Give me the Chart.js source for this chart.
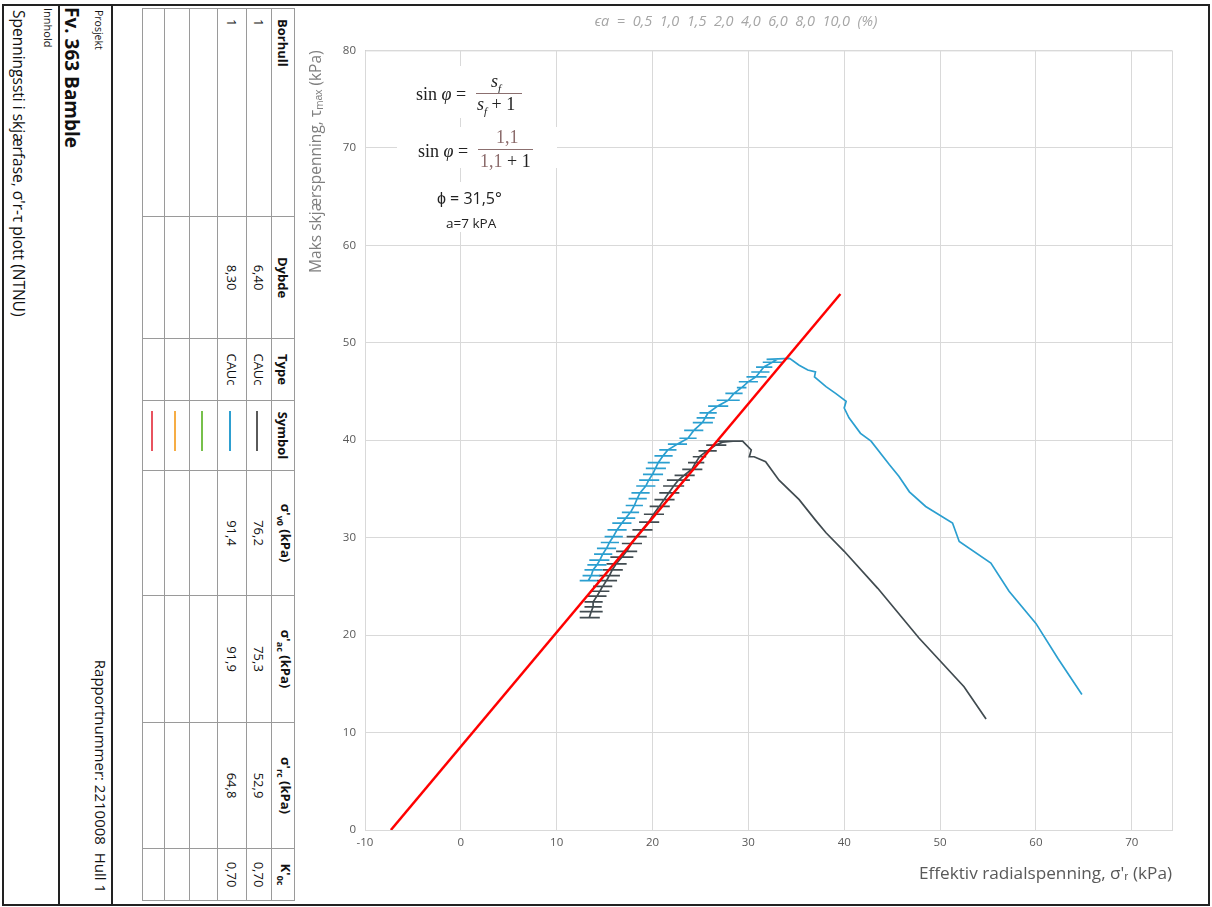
<!DOCTYPE html>
<html>
<head>
<meta charset="utf-8">
<style>
  body { margin: 0; background: #fff; width: 1212px; height: 907px; position: relative; overflow: hidden; font-family: "Open Sans", sans-serif; color: #111; }
  #frame { position: absolute; left: 2px; top: 4px; width: 1208px; height: 902px; border: 2px solid #222; box-sizing: border-box; }
  #titleBlock { position: absolute; left: 113px; top: 5px; width: 900px; height: 110px; transform-origin: 0 0; transform: rotate(90deg); border-top: 2px solid #222; box-sizing: border-box; }
  #titleBlock .sep { position: absolute; left: 0; top: 51px; width: 900px; height: 0; border-top: 2px solid #222; }
  #titleBlock span { position: absolute; white-space: nowrap; }
  #tableWrap { position: absolute; left: 295px; top: 8px; transform-origin: 0 0; transform: rotate(90deg); }
  #infoTable { border-collapse: collapse; width: 892px; table-layout: fixed; font-size: 13px; }
  #infoTable td { border: 1px solid #9a9a9a; padding: 0 4px; text-align: center; white-space: nowrap; overflow: hidden; line-height: 14px; }
  #infoTable tr:first-child td { font-weight: bold; }
  #infoTable td.first { text-align: left; padding-left: 10px; }
  #infoTable sub { font-size: 9px; }
  .sym { display: inline-block; width: 40px; height: 2px; vertical-align: middle; margin-left: 6px; }
  #chartBox { position: absolute; left: 300px; top: 8px; width: 900px; height: 892px; }
  .fbox { position: absolute; background: #fff; }
  .ft { position: absolute; white-space: nowrap; font-family: "Liberation Serif", "DejaVu Serif", serif; font-size: 18px; line-height: 20px; color: #222; }
  .fs { font-family: "Open Sans", sans-serif; }
  .bar { position: absolute; height: 1px; background: #8b6f6f; }
  .br { color: #8b6b6b; }
</style>
</head>
<body>
<div id="frame"></div>

<div id="titleBlock">
  <span style="left:5px;top:5px;font-size:10.5px;line-height:14px;">Prosjekt</span>
  <span style="left:2px;top:27px;font-size:19px;line-height:24px;font-weight:bold;">Fv. 363 Bamble</span>
  <span style="right:12px;top:1px;font-size:15px;line-height:18px;">Rapportnummer: 2210008&nbsp; Hull 1</span>
  <div class="sep"></div>
  <span style="left:3px;top:56px;font-size:11px;line-height:14px;">Innhold</span>
  <span style="left:5px;top:82px;font-size:15.5px;line-height:20px;">Spenningssti i skjærfase, σ'r-τ plott (NTNU)</span>
</div>

<div id="tableWrap"><table id="infoTable"></table></div>

<div id="chartBox"><canvas id="chart" width="900" height="892"></canvas></div>

<div class="fbox" style="left:398px;top:66px;width:158px;height:52px;"></div>
<div class="fbox" style="left:397px;top:127px;width:160px;height:41px;"></div>
<div class="fbox" style="left:420px;top:182px;width:115px;height:50px;"></div>
<span class="ft" style="left:416px;top:84px;">sin <i>φ</i> =</span>
<span class="ft" style="left:491px;top:71px;"><i>s<sub style="font-size:11px">f</sub></i></span>
<div class="bar" style="left:476px;top:93px;width:46px;"></div>
<span class="ft" style="left:477px;top:94px;"><i>s<sub style="font-size:11px">f</sub></i> + 1</span>
<span class="ft" style="left:418px;top:141px;">sin <i>φ</i> =</span>
<span class="ft br" style="left:496px;top:127px;">1,1</span>
<div class="bar" style="left:478px;top:149px;width:55px;"></div>
<span class="ft" style="left:480px;top:151px;"><span class="br">1,1</span> + 1</span>
<span class="ft fs" style="left:437px;top:188px;font-size:16px;">ϕ = 31,5°</span>
<span class="ft fs" style="left:446px;top:213px;font-size:13.5px;">a=7 kPA</span>

<script src="https://cdn.jsdelivr.net/npm/chart.js"></script>
<script>
// tabell (rotert)
const tableHeaders = ['Borhull', 'Dybde', 'Type', 'Symbol', "σ'<sub>v0</sub> (kPa)", "σ'<sub>ac</sub> (kPa)", "σ'<sub>rc</sub> (kPa)", "K'<sub>0c</sub>"];
const colWidths = [208, 122, 62, 70, 125, 127, 126, 52];
const rowHeights = [23, 25, 29, 28, 25, 22];
const borhull = ['1', '1', '', '', ''];
const dybde = ['6,40', '8,30', '', '', ''];
const testType = ['CAUc', 'CAUc', '', '', ''];
const symbolColors = ['#5a5a5a', '#2e9fd0', '#77c04b', '#f6ad45', '#e8535f'];
const sigmaV0 = ['76,2', '91,4', '', '', ''];
const sigmaAc = ['75,3', '91,9', '', '', ''];
const sigmaRc = ['52,9', '64,8', '', '', ''];
const k0c = ['0,70', '0,70', '', '', ''];

// diagram data [σ'r, τmax]
const failureLine = [[-7.3, 0], [39.6, 55]];
const grayPath = [
  [13.4,21.8],[14.5,21.8],[12.4,21.8],[13.4,21.8], [13.6,22.4],[14.8,22.4],[12.4,22.4],[13.6,22.4],
  [13.8,22.9],[14.7,22.9],[12.9,22.9],[13.8,22.9], [13.8,23.4],[14.8,23.4],[12.9,23.4],[13.8,23.4],
  [14.2,24.0],[15.2,24.0],[13.2,24.0],[14.2,24.0], [14.5,24.5],[15.5,24.5],[13.5,24.5],[14.5,24.5],
  [14.8,25.0],[15.8,25.0],[13.8,25.0],[14.8,25.0], [15.2,25.6],[16.3,25.6],[14.2,25.6],[15.2,25.6],
  [15.5,26.1],[16.6,26.1],[14.4,26.1],[15.5,26.1], [15.8,26.7],[16.9,26.7],[14.8,26.7],[15.8,26.7],
  [16.2,27.3],[17.3,27.3],[15.2,27.3],[16.2,27.3], [16.8,28.0],[18.0,28.0],[15.6,28.0],[16.8,28.0],
  [17.3,28.6],[18.4,28.6],[16.2,28.6],[17.3,28.6], [17.8,29.4],[18.9,29.4],[16.8,29.4],[17.8,29.4],
  [18.3,30.1],[19.4,30.1],[17.3,30.1],[18.3,30.1], [18.9,30.8],[20.0,30.8],[17.9,30.8],[18.9,30.8],
  [19.6,31.6],[20.7,31.6],[18.6,31.6],[19.6,31.6], [20.1,32.4],[21.2,32.4],[19.1,32.4],[20.1,32.4],
  [20.7,33.2],[21.8,33.2],[19.7,33.2],[20.7,33.2], [21.2,33.9],[22.3,33.9],[20.2,33.9],[21.2,33.9],
  [21.7,34.6],[22.8,34.6],[20.7,34.6],[21.7,34.6], [22.2,35.3],[23.3,35.3],[21.1,35.3],[22.2,35.3],
  [22.7,35.9],[23.9,35.9],[21.5,35.9],[22.7,35.9], [23.3,36.4],[24.4,36.4],[22.3,36.4],[23.3,36.4],
  [24.1,37.0],[25.2,37.0],[23.1,37.0],[24.1,37.0], [24.5,37.7],[25.4,37.7],[23.7,37.7],[24.5,37.7],
  [24.9,38.3],[25.6,38.3],[24.2,38.3],[24.9,38.3], [25.7,38.9],[26.7,38.9],[24.8,38.9],[25.7,38.9],
  [26.6,39.5],[27.7,39.5],[25.6,39.5],[26.6,39.5], [27.3,39.8],[28.4,39.9],[26.8,39.9],[29.4,39.9],
  [30.3,39.0],[30.1,38.3],[30.6,38.3],[31.8,37.8],[33.2,35.9],[35.3,33.9],[37.0,31.8],[38.1,30.5],
  [40.0,28.6],[43.5,24.8],[47.8,19.7],[52.5,14.7],[54.8,11.4]
];
const bluePath = [
  [13.3,25.6],[14.2,25.6],[12.4,25.6],[13.3,25.6], [13.6,26.1],[14.5,26.1],[12.7,26.1],[13.6,26.1],
  [13.8,26.7],[14.8,26.7],[12.9,26.7],[13.8,26.7], [14.2,27.2],[15.2,27.2],[13.2,27.2],[14.2,27.2],
  [14.5,27.7],[15.5,27.7],[13.4,27.7],[14.5,27.7], [14.8,28.3],[15.8,28.3],[13.9,28.3],[14.8,28.3],
  [15.2,28.9],[16.2,28.9],[14.2,28.9],[15.2,28.9], [15.5,29.5],[16.5,29.5],[14.6,29.5],[15.5,29.5],
  [15.9,30.1],[16.9,30.1],[15.0,30.1],[15.9,30.1], [16.3,30.8],[17.3,30.8],[15.3,30.8],[16.3,30.8],
  [16.8,31.5],[17.8,31.5],[15.8,31.5],[16.8,31.5], [17.2,32.0],[18.2,32.0],[16.3,32.0],[17.2,32.0],
  [17.7,32.6],[18.6,32.6],[16.8,32.6],[17.7,32.6], [18.1,33.3],[19.0,33.3],[17.2,33.3],[18.1,33.3],
  [18.4,34.0],[19.4,34.0],[17.5,34.0],[18.4,34.0], [18.7,34.6],[19.7,34.6],[17.8,34.6],[18.7,34.6],
  [19.3,35.3],[20.3,35.3],[18.3,35.3],[19.3,35.3], [19.6,35.9],[20.7,35.9],[18.6,35.9],[19.6,35.9],
  [20.0,36.5],[21.1,36.5],[19.0,36.5],[20.0,36.5], [20.3,37.1],[21.4,37.1],[19.3,37.1],[20.3,37.1],
  [20.6,37.7],[21.8,37.7],[19.5,37.7],[20.6,37.7], [21.1,38.4],[22.1,38.4],[20.2,38.4],[21.1,38.4],
  [21.6,39.0],[22.5,39.0],[20.7,39.0],[21.6,39.0], [22.6,39.6],[23.6,39.6],[21.6,39.6],[22.6,39.6],
  [23.7,40.2],[24.6,40.2],[22.8,40.2],[23.7,40.2], [24.3,41.0],[25.3,41.0],[23.3,41.0],[24.3,41.0],
  [25.2,41.8],[26.3,41.8],[24.2,41.8],[25.2,41.8], [25.5,42.3],[26.5,42.3],[24.6,42.3],[25.5,42.3],
  [25.8,42.8],[26.7,42.8],[24.9,42.8],[25.8,42.8], [26.8,43.5],[27.9,43.5],[25.8,43.5],[26.8,43.5],
  [27.9,44.1],[29.1,44.1],[26.7,44.1],[27.9,44.1], [28.5,44.8],[29.4,44.8],[27.6,44.8],[28.5,44.8],
  [29.3,45.4],[29.8,45.4],[28.8,45.4],[29.3,45.4], [30.0,46.0],[31.0,46.0],[29.0,46.0],[30.0,46.0],
  [30.8,46.5],[31.9,46.5],[29.8,46.5],[30.8,46.5], [31.2,47.0],[32.2,47.0],[30.3,47.0],[31.2,47.0],
  [31.6,47.5],[32.5,47.5],[30.8,47.5],[31.6,47.5], [32.5,48.0],[33.6,48.0],[31.5,48.0],[32.5,48.0],
  [33.0,48.3],[31.9,48.3],[34.3,48.4],
  [35.3,47.7],[36.2,47.2],[37.0,47.0],[36.9,46.5],[38.1,45.5],[39.1,44.8],[40.2,44.0],[40.0,43.3],
  [40.5,42.3],[41.7,40.7],[42.8,39.9],[44.7,37.5],[45.7,36.3],[46.8,34.7],[48.5,33.2],[51.3,31.5],
  [52.0,29.6],[55.3,27.4],[57.2,24.5],[60.0,21.2],[62.3,17.6],[64.8,13.9]
];
const strainLabel = 'ϵa  =  0,5  1,0  1,5  2,0  4,0  6,0  8,0  10,0  (%)';

function buildTable() {
  const table = document.getElementById('infoTable');
  let html = '<colgroup>' + colWidths.map(w => `<col style="width:${w}px">`).join('') + '</colgroup>';
  html += `<tr style="height:${rowHeights[0]}px">` + tableHeaders.map((h, i) => `<td class="${i === 0 ? 'first' : ''}">${h}</td>`).join('') + '</tr>';
  for (let r = 0; r < symbolColors.length; r++) {
    html += `<tr style="height:${rowHeights[r + 1]}px">`;
    html += `<td class="first">${borhull[r]}</td><td>${dybde[r]}</td><td>${testType[r]}</td>`;
    html += `<td style="text-align:left"><span class="sym" style="background:${symbolColors[r]}"></span></td>`;
    html += `<td>${sigmaV0[r]}</td><td>${sigmaAc[r]}</td><td>${sigmaRc[r]}</td><td>${k0c[r]}</td></tr>`;
  }
  table.innerHTML = html;
}
buildTable();

const toXY = arr => arr.map(p => ({ x: p[0], y: p[1] }));

const plotBorder = {
  id: 'plotBorder',
  beforeDatasetsDraw(chart) {
    const { ctx, chartArea: a } = chart;
    ctx.save();
    ctx.strokeStyle = '#d9d9d9';
    ctx.lineWidth = 1;
    ctx.strokeRect(a.left + 0.5, a.top + 0.5, a.right - a.left, a.bottom - a.top);
    ctx.restore();
  }
};

Chart.defaults.font.family = '"Open Sans", sans-serif';

new Chart(document.getElementById('chart'), {
  type: 'scatter',
  data: {
    datasets: [
      { label: 'Bruddlinje', data: toXY(failureLine), borderColor: '#ff0000', borderWidth: 2.5, showLine: true, pointRadius: 0, order: 0 },
      { label: 'Hull 1, 8,30 m', data: toXY(bluePath), borderColor: '#2b9fd0', borderWidth: 1.7, showLine: true, pointRadius: 0, order: 1 },
      { label: 'Hull 1, 6,40 m', data: toXY(grayPath), borderColor: '#414b50', borderWidth: 1.7, showLine: true, pointRadius: 0, order: 2 }
    ]
  },
  options: {
    responsive: false,
    animation: false,
    layout: { padding: { top: 0, right: 28, left: 0, bottom: 0 } },
    plugins: {
      legend: { display: false },
      tooltip: { enabled: false },
      title: {
        display: true,
        text: strainLabel,
        color: '#a6a6a6',
        font: { size: 14.5, style: 'italic', weight: 'normal' },
        padding: { top: 5, bottom: 20 }
      }
    },
    scales: {
      x: {
        type: 'linear',
        min: -10,
        max: 74.2,
        afterFit: s => { s.height = 70; },
        ticks: { stepSize: 10, includeBounds: false, color: '#595959', font: { size: 11.5 }, padding: 6 },
        grid: { color: '#d9d9d9', drawTicks: false },
        border: { color: '#bfbfbf' },
        title: {
          display: true,
          text: "Effektiv radialspenning, σ'ᵣ (kPa)",
          align: 'end',
          color: '#595959',
          font: { size: 17.2 },
          padding: { top: 0, bottom: 16 }
        }
      },
      y: {
        min: 0,
        max: 80,
        afterFit: s => { s.width = 65; },
        ticks: { stepSize: 10, color: '#595959', font: { size: 11.5 }, padding: 9 },
        grid: { color: '#d9d9d9', drawTicks: false },
        border: { color: '#bfbfbf' },
        title: {
          display: true,
          text: 'Maks skjærspenning, τₘₐₓ (kPa)',
          align: 'end',
          color: '#7f7f7f',
          font: { size: 15.5 },
          padding: { top: 7, bottom: 0 }
        }
      }
    }
  },
  plugins: [plotBorder]
});
</script>
</body>
</html>
